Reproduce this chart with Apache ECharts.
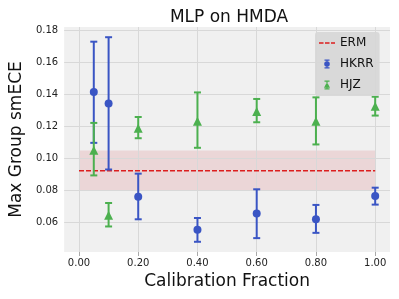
<!DOCTYPE html>
<html>
<head>
<meta charset="utf-8">
<script src="https://cdn.jsdelivr.net/npm/echarts@6/dist/echarts.min.js"></script>
<style>html,body{margin:0;padding:0;background:#fff;}#c{width:399px;height:299px;}</style>
</head>
<body>
<div id="c"></div>
<script>
// ---- data ----
const fractions = [0.05, 0.1, 0.2, 0.4, 0.6, 0.8, 1.0];
const hkrrMean = [0.1415, 0.1344, 0.0760, 0.0552, 0.0654, 0.0618, 0.0764];
const hkrrLow  = [0.1097, 0.0930, 0.0618, 0.0477, 0.0500, 0.0533, 0.0710];
const hkrrHigh = [0.1731, 0.1759, 0.0904, 0.0626, 0.0806, 0.0708, 0.0816];
const hjzMean  = [0.1051, 0.0643, 0.1188, 0.1232, 0.1294, 0.1232, 0.1326];
const hjzLow   = [0.0893, 0.0573, 0.1126, 0.1066, 0.1226, 0.1087, 0.1268];
const hjzHigh  = [0.1222, 0.0720, 0.1259, 0.1413, 0.1372, 0.1382, 0.1386];
const ermValue = 0.0922;
const ermLow = 0.0795;
const ermHigh = 0.1049;
const ermRange = [0.0, 1.0];
const xTicks = [0.0, 0.2, 0.4, 0.6, 0.8, 1.0];
const yTicks = [0.06, 0.08, 0.10, 0.12, 0.14, 0.16, 0.18];

const BLUE = '#3a55c4';
const GREEN = '#4cb04f';
const RED = '#dc1e1e';
const FONT = 'DejaVu Sans';

// legend icons (16x9 box, small errorbar glyphs centred)
const SPECKS = 'M0,4.5h0.01v0.01h-0.01z M15.99,4.5h0.01v0.01h-0.01z ';
const BAR = 'M5.5,0h5v1.2h-5z M5.5,7.8h5v1.2h-5z M7.4,0h1.2v9h-1.2z ';
const ICON_ERM = 'path://M0,3.8h4.5v1.4h-4.5z M6,3.8h4.5v1.4h-4.5z M12,3.8h4v1.4h-4z';
const ICON_HKRR = 'path://' + SPECKS + BAR + 'M5.2,4.5a2.8,2.8 0 1,1 5.6,0a2.8,2.8 0 1,1 -5.6,0z';
const ICON_HJZ = 'path://' + SPECKS + BAR + 'M8,1.6L11,7.2L5,7.2z';

function errData(xs, lo, hi, mean) {
  return xs.map((x, i) => [x, mean[i], lo[i], hi[i]]);
}
function errRender(color) {
  return function (params, api) {
    const x = api.value(0), lo = api.value(2), hi = api.value(3);
    const pLo = api.coord([x, lo]);
    const pHi = api.coord([x, hi]);
    const hw = 3.5;
    const st = { stroke: color, lineWidth: 2 };
    return {
      type: 'group',
      children: [
        { type: 'line', shape: { x1: pLo[0], y1: pLo[1], x2: pHi[0], y2: pHi[1] }, style: st },
        { type: 'line', shape: { x1: pLo[0] - hw, y1: pLo[1], x2: pLo[0] + hw, y2: pLo[1] }, style: st },
        { type: 'line', shape: { x1: pHi[0] - hw, y1: pHi[1], x2: pHi[0] + hw, y2: pHi[1] }, style: st }
      ]
    };
  };
}
const isTick = (arr) => (v) => arr.some(t => Math.abs(t - v) < 1e-9);

const chart = echarts.init(document.getElementById('c'), null, { renderer: 'canvas' });
chart.setOption({
  animation: false,
  textStyle: { fontFamily: FONT },
  title: {
    text: 'MLP on HMDA',
    left: 224, textAlign: 'center', top: 4,
    textStyle: { fontFamily: FONT, fontSize: 17, fontWeight: 'normal', color: '#111' }
  },
  legend: {
    orient: 'vertical',
    left: 315, top: 32, z: 20,
    padding: [5, 6, 5, 4],
    itemGap: 9,
    itemWidth: 16, itemHeight: 9,
    backgroundColor: 'rgba(215,215,215,0.95)',
    borderRadius: 3,
    textStyle: { fontFamily: FONT, fontSize: 12, color: '#111' },
    data: [
      { name: 'ERM', icon: ICON_ERM },
      { name: 'HKRR', icon: ICON_HKRR },
      { name: 'HJZ', icon: ICON_HJZ }
    ]
  },
  grid: {
    left: 59, right: 9, top: 27, bottom: 47,
    show: true, backgroundColor: '#f0f0f0', borderWidth: 0
  },
  xAxis: {
    type: 'value', min: -0.05, max: 1.05,
    name: 'Calibration Fraction', nameLocation: 'middle', nameGap: 20,
    nameTextStyle: { fontFamily: FONT, fontSize: 17, color: '#111' },
    axisLine: { show: false },
    axisTick: { show: true, length: 4, lineStyle: { color: '#aaa' }, customValues: xTicks },
    axisLabel: {
      fontFamily: FONT, fontSize: 10, color: '#222', margin: 6,
      customValues: xTicks,
      formatter: (v) => isTick(xTicks)(v) ? v.toFixed(2) : ''
    },
    splitLine: { show: false }
  },
  yAxis: {
    type: 'value', min: 0.0413, max: 0.1823,
    name: 'Max Group smECE', nameLocation: 'middle', nameGap: 31,
    nameTextStyle: { fontFamily: FONT, fontSize: 17, color: '#111' },
    axisLine: { show: false },
    axisTick: { show: true, length: 4, lineStyle: { color: '#555' }, customValues: yTicks },
    axisLabel: {
      fontFamily: FONT, fontSize: 10, color: '#222', margin: 6,
      customValues: yTicks,
      formatter: (v) => isTick(yTicks)(v) ? v.toFixed(2) : ''
    },
    splitLine: { show: false }
  },
  series: [
    {
      name: 'gridlines', type: 'line', data: [], z: 1, silent: true,
      markLine: {
        z: 1,
        silent: true, symbol: 'none', label: { show: false },
        lineStyle: { color: '#d8d8d8', width: 1, type: 'solid' },
        data: xTicks.map(t => ({ xAxis: t })).concat(yTicks.map(t => ({ yAxis: t })))
      }
    },
    {
      name: 'ERM', type: 'line', z: 2,
      data: [[ermRange[0], ermValue], [ermRange[1], ermValue]],
      symbol: 'none', showSymbol: false,
      itemStyle: { color: RED },
      lineStyle: { color: RED, width: 1.5, type: [5, 2] },
      markArea: {
        z: 1,
        silent: true,
        itemStyle: { color: 'rgba(200,40,50,0.13)' },
        data: [[{ xAxis: ermRange[0], yAxis: ermLow }, { xAxis: ermRange[1], yAxis: ermHigh }]]
      }
    },
    {
      name: 'HKRR err', type: 'custom', z: 3,
      renderItem: errRender(BLUE),
      encode: { x: 0, y: [2, 3] },
      data: errData(fractions, hkrrLow, hkrrHigh, hkrrMean)
    },
    {
      name: 'HKRR', type: 'scatter', z: 4,
      symbol: 'circle', symbolSize: 8,
      itemStyle: { color: BLUE, opacity: 1 },
      data: fractions.map((x, i) => [x, hkrrMean[i]])
    },
    {
      name: 'HJZ err', type: 'custom', z: 5,
      renderItem: errRender(GREEN),
      encode: { x: 0, y: [2, 3] },
      data: errData(fractions, hjzLow, hjzHigh, hjzMean)
    },
    {
      name: 'HJZ', type: 'scatter', z: 6,
      symbol: 'triangle', symbolSize: 9,
      itemStyle: { color: GREEN, opacity: 1 },
      data: fractions.map((x, i) => [x, hjzMean[i]])
    }
  ]
});
</script>
</body>
</html>
